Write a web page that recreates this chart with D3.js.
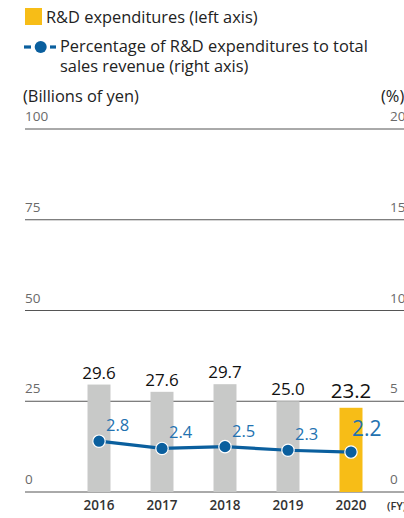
<!DOCTYPE html>
<html><head><meta charset="utf-8">
<script src="https://cdn.jsdelivr.net/npm/d3@7"></script>
<style>
html,body{margin:0;padding:0;background:#fff;overflow:hidden;}
svg{display:block;font-family:"Open Sans",sans-serif;}
</style></head>
<body>
<svg id="c" width="404" height="518"></svg>
<script>
const years = ["2016","2017","2018","2019","2020"];
const rdExp = [29.6, 27.6, 29.7, 25.0, 23.2];
const rdPct = [2.8, 2.4, 2.5, 2.3, 2.2];
const leftTicks = [0, 25, 50, 75, 100];
const rightTicks = [0, 5, 10, 15, 20];

const svg = d3.select("#c");
const y = d3.scaleLinear().domain([0,100]).range([492,129]);
const yR = d3.scaleLinear().domain([0,20]).range([492,129]);
const x = d3.scaleBand().domain(years).range([67.5,382.5]).paddingInner(0.635).paddingOuter(0.3175);
const last = years.length-1;

// gridlines
svg.append("g").selectAll("line").data(leftTicks).join("line")
  .attr("x1",25).attr("x2",404).attr("y1",d=>y(d)).attr("y2",d=>y(d))
  .attr("stroke","#555").attr("stroke-width",1);
svg.append("g").selectAll("text").data(leftTicks).join("text")
  .attr("x",25).attr("y",d=>y(d)-8).text(d=>d)
  .attr("font-size",13.5).attr("fill","#6a6a6a");
svg.append("g").selectAll("text").data(rightTicks).join("text")
  .attr("x",390).attr("y",d=>yR(d)-8).text(d=>d)
  .attr("font-size",13.5).attr("fill","#6a6a6a");

// bars
svg.append("g").selectAll("rect").data(rdExp).join("rect")
  .attr("x",(d,i)=>x(years[i])).attr("width",x.bandwidth())
  .attr("y",d=>y(d)).attr("height",d=>y(0)-y(d))
  .attr("fill",(d,i)=>i===last?"#f7bd17":"#c8c9c8");

// bar labels
svg.append("g").selectAll("text").data(rdExp).join("text")
  .attr("x",(d,i)=>x(years[i])+x.bandwidth()/2)
  .attr("y",(d,i)=>y(d)-(i===last?10:6))
  .attr("text-anchor","middle")
  .attr("font-size",(d,i)=>i===last?20.5:17)
  .attr("fill","#111")
  .text(d=>d.toFixed(1));

// line
const cx = i => x(years[i])+x.bandwidth()/2;
const line = d3.line().x((d,i)=>cx(i)).y(d=>yR(d));
svg.append("path").datum(rdPct).attr("d",line)
  .attr("fill","none").attr("stroke","#0a5f9e").attr("stroke-width",3.2);
svg.append("g").selectAll("circle").data(rdPct).join("circle")
  .attr("cx",(d,i)=>cx(i)).attr("cy",d=>yR(d)).attr("r",6.2)
  .attr("fill","#0a5f9e").attr("stroke","#fff").attr("stroke-width",1.2);
svg.append("g").selectAll("text").data(rdPct).join("text")
  .attr("x",(d,i)=>cx(i)+(i===last?1:7))
  .attr("y",(d,i)=>yR(d)-(i===last?16:10))
  .attr("font-size",(d,i)=>i===last?21:16.5)
  .attr("fill","#2372b0")
  .text(d=>d.toFixed(1));

// x axis labels
svg.append("g").selectAll("text").data(years).join("text")
  .attr("x",d=>x(d)+x.bandwidth()/2).attr("y",510)
  .attr("text-anchor","middle").attr("font-size",13.5).attr("font-weight",600)
  .attr("fill","#333").text(d=>d);
svg.append("text").attr("x",387).attr("y",510).attr("font-size",11).attr("font-weight",600)
  .attr("fill","#333").text("(FY)");

// axis titles
svg.append("text").attr("x",23).attr("y",102).attr("font-size",16.4).attr("fill","#222").text("(Billions of yen)");
svg.append("text").attr("x",381).attr("y",102).attr("font-size",16.4).attr("fill","#222").text("(%)");

// legend
svg.append("rect").attr("x",25).attr("y",8).attr("width",17).attr("height",17).attr("fill","#f7bd17");
svg.append("text").attr("x",46).attr("y",23).attr("font-size",16.4).attr("fill","#222").text("R&D expenditures (left axis)");
const lg = svg.append("g").attr("stroke","#0a5f9e").attr("stroke-width",3.2);
lg.append("line").attr("x1",24).attr("x2",31).attr("y1",47).attr("y2",47);
lg.append("line").attr("x1",50).attr("x2",56).attr("y1",47).attr("y2",47);
svg.append("circle").attr("cx",40.7).attr("cy",47).attr("r",6).attr("fill","#0a5f9e");
svg.append("text").attr("x",60).attr("y",52).attr("font-size",16.4).attr("fill","#222").text("Percentage of R&D expenditures to total");
svg.append("text").attr("x",60).attr("y",72).attr("font-size",16.4).attr("fill","#222").text("sales revenue (right axis)");
</script>
</body></html>
